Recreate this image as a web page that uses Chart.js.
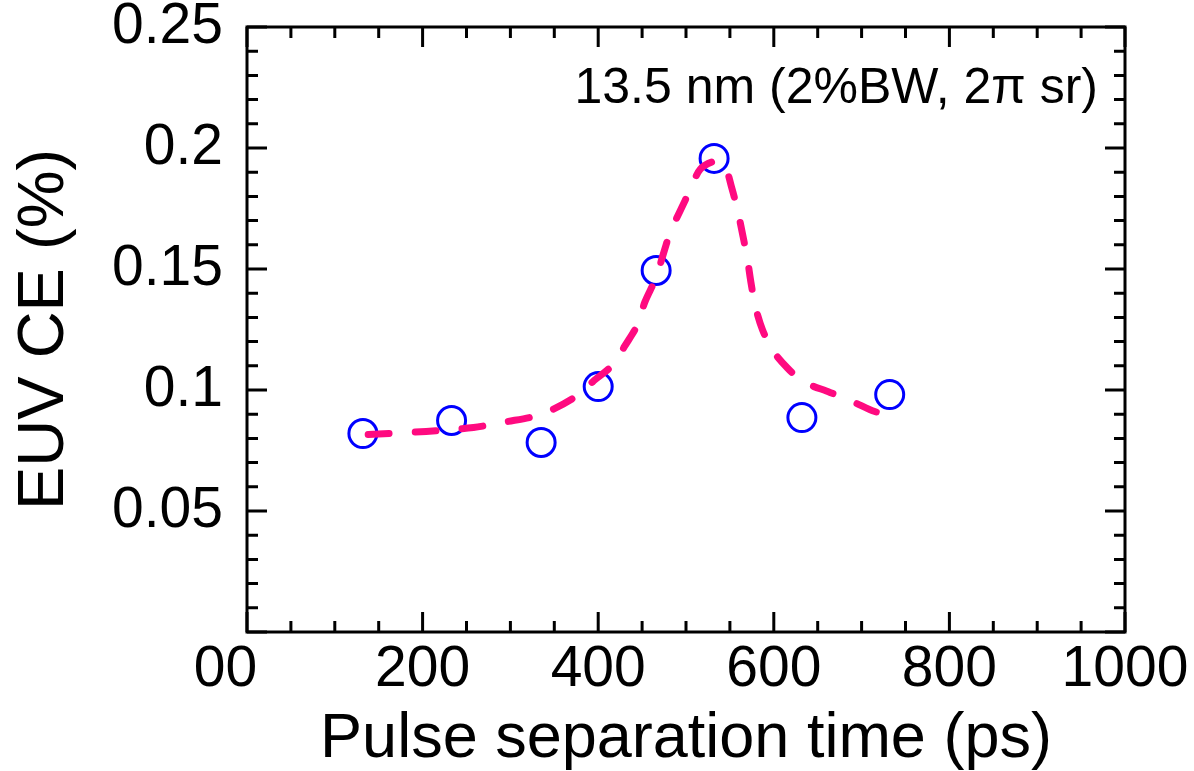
<!DOCTYPE html>
<html>
<head>
<meta charset="utf-8">
<script src="https://cdn.jsdelivr.net/npm/chart.js@4.4.0/dist/chart.umd.min.js"></script>
<style>
  html, body { margin: 0; padding: 0; background: #fff; }
  #wrap { width: 1194px; height: 771px; }
</style>
</head>
<body>
<div id="wrap"><canvas id="euvChart"></canvas></div>
<script>
// measured points (pulse separation in ps, EUV CE in %)
const delayPs = [132, 233, 335, 400, 466, 532, 632, 732];
const cePercent = [0.082, 0.0874, 0.0783, 0.1014, 0.1494, 0.1957, 0.0886, 0.0981];

// fit curve
const fitDelay = [138, 204, 258, 297, 326, 348, 376, 394, 417, 430, 445, 453, 466, 473, 482, 493, 505, 516, 532, 544, 552, 559, 565, 570, 574, 579, 587, 598, 615, 633, 664, 692, 715, 736];
const fitCE = [0.0816, 0.0829, 0.0845, 0.0870, 0.0890, 0.0919, 0.0977, 0.1035, 0.1105, 0.1180, 0.1271, 0.1362, 0.1465, 0.1548, 0.1651, 0.1738, 0.1829, 0.1911, 0.1944, 0.1924, 0.1837, 0.1738, 0.1634, 0.1539, 0.1444, 0.1345, 0.1250, 0.1167, 0.1093, 0.1035, 0.0990, 0.0948, 0.0911, 0.0895];

// "00" sits a bit left of the axis in the original, hence the trailing spaces
const xLabels = { 0: "00\u00a0\u00a0\u2009", 200: "200", 400: "400", 600: "600", 800: "800", 1000: "1000" };
const yLabels = ["0.05", "0.1", "0.15", "0.2", "0.25"];
const note = "13.5 nm (2%BW, 2\u03c0 sr)";

const FONT = "'Liberation Sans', Arial, Helvetica, sans-serif";

// frame with inward ticks on all four sides + the note text
const framePlugin = {
  id: "framePlugin",
  afterDraw(chart) {
    const { ctx, chartArea: a, scales: { x, y } } = chart;
    ctx.save();
    ctx.strokeStyle = "#000";
    ctx.lineWidth = 3;
    ctx.beginPath();
    x.ticks.forEach(t => {
      const px = x.getPixelForValue(t.value);
      const len = Math.round(t.value) % 200 === 0 ? 20 : 11;
      ctx.moveTo(px, a.bottom); ctx.lineTo(px, a.bottom - len);
      ctx.moveTo(px, a.top); ctx.lineTo(px, a.top + len);
    });
    y.ticks.forEach(t => {
      const py = y.getPixelForValue(t.value);
      const len = Math.round(t.value * 100) % 5 === 0 ? 20 : 11;
      ctx.moveTo(a.left, py); ctx.lineTo(a.left + len, py);
      ctx.moveTo(a.right, py); ctx.lineTo(a.right - len, py);
    });
    ctx.stroke();
    ctx.lineJoin = "miter";
    ctx.strokeRect(a.left, a.top, a.right - a.left, a.bottom - a.top);

    ctx.fillStyle = "#000";
    ctx.font = "50px " + FONT;
    ctx.textAlign = "right";
    ctx.textBaseline = "alphabetic";
    ctx.fillText(note, 1098, 103);
    ctx.restore();
  }
};

new Chart(document.getElementById("euvChart"), {
  type: "scatter",
  data: {
    datasets: [
      {
        label: "fit",
        data: fitDelay.map((v, i) => ({ x: v, y: fitCE[i] })),
        showLine: true,
        tension: 0.3,
        borderColor: "#ff0a80",
        borderWidth: 7,
        borderDash: [21, 26],
        borderCapStyle: "round",
        pointRadius: 0,
        pointHoverRadius: 0
      },
      {
        label: "EUV CE",
        data: delayPs.map((v, i) => ({ x: v, y: cePercent[i] })),
        pointStyle: "circle",
        pointRadius: 14,
        pointBorderWidth: 3,
        pointBorderColor: "#0000ff",
        pointBackgroundColor: "rgba(0,0,0,0)"
      }
    ]
  },
  options: {
    responsive: true,
    maintainAspectRatio: false,
    animation: false,
    layout: { padding: { top: 27, right: 69, bottom: 0, left: 0 } },
    plugins: { legend: { display: false }, tooltip: { enabled: false } },
    scales: {
      x: {
        type: "linear",
        min: 0,
        max: 1000,
        grid: { display: false, drawTicks: false },
        border: { display: false },
        ticks: {
          stepSize: 50,
          autoSkip: false,
          maxRotation: 0,
          padding: 4,
          color: "#000",
          font: { family: FONT, size: 57 },
          callback: v => xLabels[Math.round(v)] || ""
        },
        title: {
          display: true,
          text: "Pulse separation time (ps)",
          color: "#000",
          padding: 0,
          font: { family: FONT, size: 63, lineHeight: 1 }
        },
        afterFit(s) { s.height = 139; s.paddingLeft = 0; s.paddingRight = 0; }
      },
      y: {
        type: "linear",
        min: 0,
        max: 0.25,
        grid: { display: false, drawTicks: false },
        border: { display: false },
        ticks: {
          stepSize: 0.01,
          autoSkip: false,
          padding: 24,
          color: "#000",
          font: { family: FONT, size: 57 },
          callback: v => {
            const s = String(Math.round(v * 100) / 100);
            return yLabels.includes(s) ? s : "";
          }
        },
        title: {
          display: true,
          text: "EUV CE (%)",
          color: "#000",
          padding: { top: 13, bottom: 0 },
          font: { family: FONT, size: 65, lineHeight: 1 }
        },
        afterFit(s) { s.width = 247; s.paddingTop = 0; s.paddingBottom = 0; }
      }
    }
  },
  plugins: [framePlugin]
});
</script>
</body>
</html>
